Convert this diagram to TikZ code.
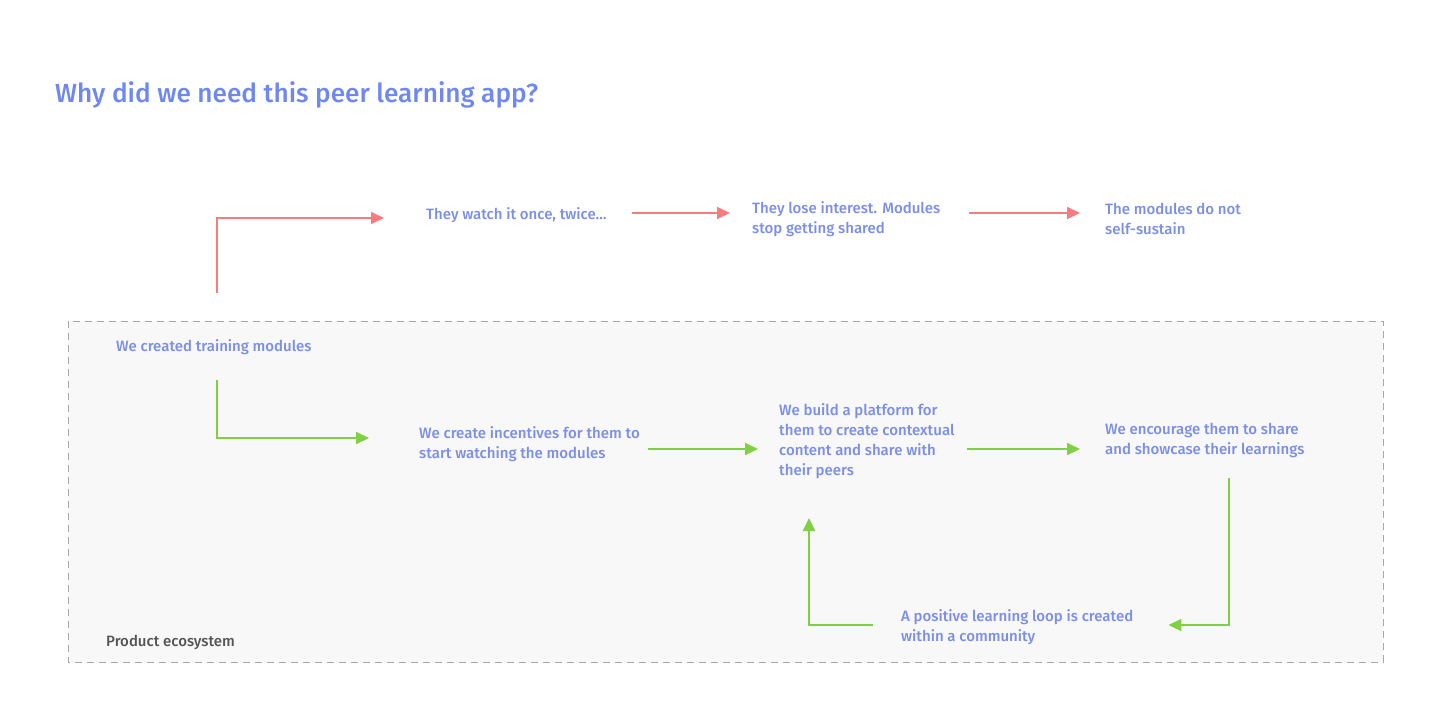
\documentclass[tikz,border=0pt]{standalone}
\usepackage{fontspec}
\setmainfont{Fira Sans}[BoldFont={Fira Sans Medium}]
\usetikzlibrary{arrows.meta}

\definecolor{titleBlue}{HTML}{6F88EF}
\definecolor{textBlue}{HTML}{7B8EE8}
\definecolor{badRed}{HTML}{F67D7D}
\definecolor{goodGreen}{HTML}{80D041}
\definecolor{boxGray}{HTML}{F8F8F8}
\definecolor{dashGray}{HTML}{A8A8A8}
\definecolor{labelGray}{HTML}{555555}

\tikzset{
  flowText/.style={anchor=west, inner sep=0pt, align=left, text=textBlue,
    font=\bfseries\fontsize{15}{20}\selectfont},
  badFlow/.style={draw=badRed, line width=2pt, -{Triangle[length=13pt,width=12pt]}},
  goodFlow/.style={draw=goodGreen, line width=2pt, -{Triangle[length=13pt,width=12pt]}},
}

\begin{document}
\begin{tikzpicture}[x=1pt, y=-1pt]

    \useasboundingbox (0,0) rectangle (1440,710);

    % product ecosystem frame
    \draw[dashGray, fill=boxGray, line width=1pt, dash pattern=on 7pt off 5pt] (68,321) rectangle (1383,662);

    \node[anchor=west, inner sep=0pt, text=titleBlue, font=\bfseries\fontsize{26.2}{30}\selectfont] (title) at (55,95) {Why did we need this peer learning app?};
    \node[anchor=west, inner sep=0pt, text=labelGray, font=\bfseries\fontsize{15}{20}\selectfont] (ecoLabel) at (106,642) {Product ecosystem};

    % steps
    \node[flowText] (created) at (116,347) {We created training modules};
    \node[flowText] (watch) at (426,215) {They watch it once, twice…};
    \node[flowText] (lose) at (752,219) {They lose interest. Modules\\stop getting shared};
    \node[flowText] (sustain) at (1105,219) {The modules do not\\self-sustain};
    \node[flowText] (incent) at (419,444) {We create incentives for them to\\start watching the modules};
    \node[flowText] (platform) at (779,441) {We build a platform for\\them to create contextual\\content and share with\\their peers};
    \node[flowText] (share) at (1105,440) {We encourage them to share\\and showcase their learnings};
    \node[flowText] (loop) at (901,627) {A positive learning loop is created\\within a community};

    % without the app
    \draw[badFlow] ([xshift=101pt,yshift=54pt]created.west) |- ([xshift=-42pt,yshift=-3pt]watch.west);
    \draw[badFlow] ([xshift=25pt,yshift=2pt]watch.east) -- ([xshift=-22pt,yshift=6pt]lose.west);
    \draw[badFlow] ([xshift=29pt,yshift=6pt]lose.east) -- ([xshift=-25pt,yshift=6pt]sustain.west);

    % with the app
    \draw[goodFlow] ([xshift=101pt,yshift=-33pt]created.west) |- ([xshift=-50pt,yshift=6pt]incent.west);
    \draw[goodFlow] ([xshift=8pt,yshift=-5pt]incent.east) -- ([xshift=-21pt,yshift=-8pt]platform.west);
    \draw[goodFlow] ([xshift=12pt,yshift=-8pt]platform.east) -- ([xshift=-25pt,yshift=-9pt]share.west);
    \draw[goodFlow] ([xshift=124pt,yshift=-38pt]share.west) |- ([xshift=35pt,yshift=2pt]loop.east);
    \draw[goodFlow] ([xshift=-28pt,yshift=2pt]loop.west) -| ([xshift=30pt,yshift=-77pt]platform.west);

\end{tikzpicture}
\end{document}
